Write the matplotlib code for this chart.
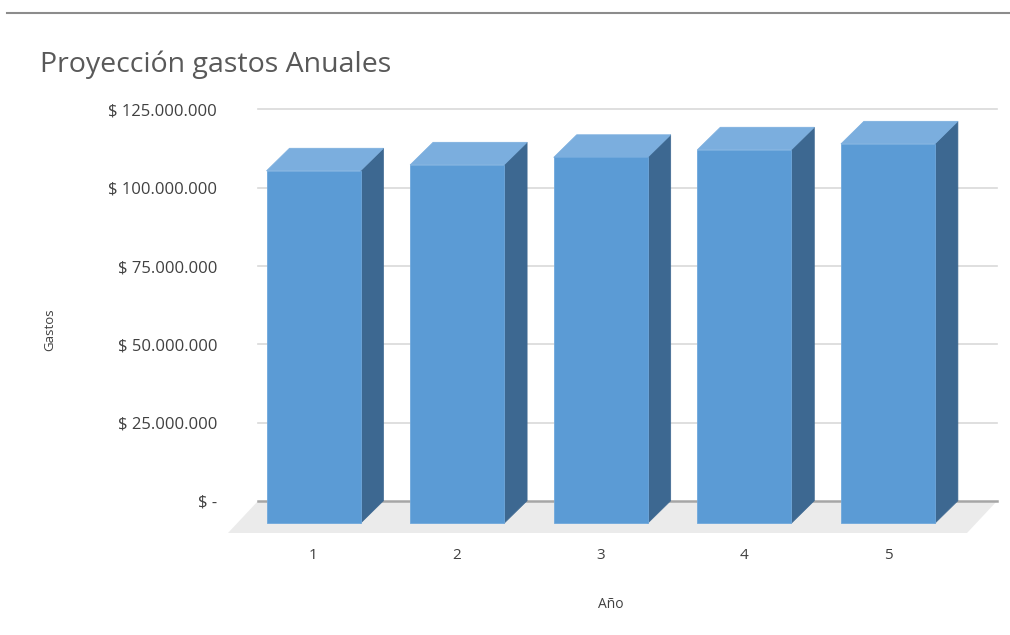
import matplotlib
matplotlib.use("Agg")
import matplotlib.pyplot as plt
from matplotlib.patches import Polygon
from matplotlib.lines import Line2D

# Data (millions of pesos)
years = [1, 2, 3, 4, 5]
gastos_mm = [112.5, 114.4, 116.8, 119.2, 121.1]
ytick_values = [0, 25, 50, 75, 100, 125]
ytick_labels = ["$ -", "$ 25.000.000", "$ 50.000.000", "$ 75.000.000",
                "$ 100.000.000", "$ 125.000.000"]

title = "Proyección gastos Anuales"
xlabel = "Año"
ylabel = "Gastos"

FONT = ["Open Sans", "DejaVu Sans"]
plt.rcParams["font.family"] = FONT

W, H, DPI = 1010, 635, 100
fig = plt.figure(figsize=(W / DPI, H / DPI), dpi=DPI)
fig.patch.set_facecolor("white")

# pixel geometry of the plot area
PX_X1, PX_PER_CAT = 313.5, 143.6      # screen x of category 1, px per category
PX_Y0, PX_PER_M = 501.0, 3.133        # screen y of zero on back wall, px per million
left_px, right_px, top_px, bot_px = 258, 997, 100, 540

ax = fig.add_axes([left_px / W, 1 - bot_px / H, (right_px - left_px) / W, (bot_px - top_px) / H])
ax.set_xlim(1 + (left_px - PX_X1) / PX_PER_CAT, 1 + (right_px - PX_X1) / PX_PER_CAT)
ax.set_ylim((PX_Y0 - bot_px) / PX_PER_M, (PX_Y0 - top_px) / PX_PER_M)
for s in ax.spines.values():
    s.set_visible(False)

x0, x1 = ax.get_xlim()

# oblique depth offsets (data units)
floor_dx, floor_dy = 30 / PX_PER_CAT, 32 / PX_PER_M
bar_dx, bar_dy = 23 / PX_PER_CAT, 22.6 / PX_PER_M
bar_base = -22.3 / PX_PER_M
half_w = 47 / PX_PER_CAT

# floor
floor = Polygon([(x0, 0), (x1, 0), (x1 - floor_dx, -floor_dy), (x0 - floor_dx, -floor_dy)],
                 closed=True, facecolor="#EBEBEB", edgecolor="none", clip_on=False, zorder=1)
ax.add_patch(floor)

# back-wall gridlines
for v in ytick_values[1:]:
    ax.add_line(Line2D([x0, x1], [v, v], color="#D9D9D9", lw=1.2, zorder=2, clip_on=False))
ax.add_line(Line2D([x0, x1], [0, 0], color="#A6A6A6", lw=1.8, zorder=2, clip_on=False))

front_c, top_c, side_c = "#5B9BD5", "#7BAEDE", "#3D6891"
for x, v in zip(years, gastos_mm):
    xl, xr = x - half_w, x + half_w
    b, t = bar_base, bar_base + v
    side = Polygon([(xr, b), (xr + bar_dx, b + bar_dy), (xr + bar_dx, t + bar_dy), (xr, t)],
                   facecolor=side_c, edgecolor=side_c, lw=0.5, zorder=3)
    topf = Polygon([(xl, t), (xr, t), (xr + bar_dx, t + bar_dy), (xl + bar_dx, t + bar_dy)],
                   facecolor=top_c, edgecolor=top_c, lw=0.5, zorder=3)
    front = Polygon([(xl, b), (xr, b), (xr, t), (xl, t)],
                    facecolor=front_c, edgecolor="#6FA8DC", lw=0.6, zorder=4)
    for p in (side, topf, front):
        ax.add_patch(p)

# ticks
ax.set_yticks(ytick_values)
ax.set_yticklabels(ytick_labels)
ax.set_xticks(years)
ax.set_xticklabels([str(y) for y in years])
ax.tick_params(axis="y", length=0, pad=(left_px - 217) * 72 / DPI, labelsize=12, labelcolor="#404040")
ax.tick_params(axis="x", length=0, pad=8 * 72 / DPI, labelsize=11, labelcolor="#404040")

# titles and axis labels
fig.text(40 / W, 1 - 72 / H, title, fontsize=20.5, color="#595959", ha="left", va="baseline")
fig.text(611 / W, 1 - 604 / H, xlabel, fontsize=10, color="#404040", ha="center", va="center")
fig.text(50 / W, 1 - 330 / H, ylabel, fontsize=9.5, color="#404040", ha="center", va="center",
         rotation=90)

# rule along the top
fig.add_artist(Line2D([7 / W, 1], [1 - 13 / H, 1 - 13 / H], color="#8C8C8C", lw=1.5))

fig.savefig("out.png", dpi=DPI, facecolor="white")
